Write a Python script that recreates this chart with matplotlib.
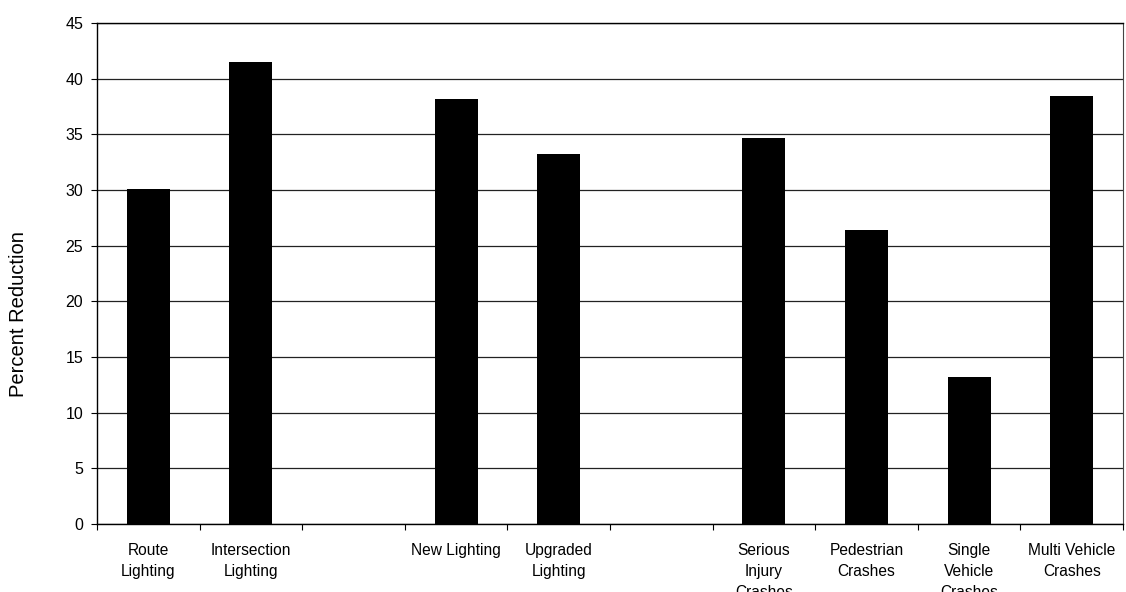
import numpy as np
import matplotlib.pyplot as plt

plt.rcParams['font.family'] = ['Liberation Sans', 'DejaVu Sans']

# empty slots keep the gaps between the three groups
labels = ['Route\nLighting', 'Intersection\nLighting', '',
          'New Lighting', 'Upgraded\nLighting', '',
          'Serious\nInjury\nCrashes', 'Pedestrian\nCrashes',
          'Single\nVehicle\nCrashes', 'Multi Vehicle\nCrashes']
reduction = [30.1, 41.5, np.nan, 38.2, 33.2, np.nan, 34.7, 26.4, 13.2, 38.4]

x = np.arange(len(labels))
vals = np.array(reduction)
keep = ~np.isnan(vals)

fig = plt.figure(figsize=(11.26, 5.92), dpi=100)
ax = fig.add_axes([97 / 1126, 1 - 524 / 592, (1123 - 97) / 1126, (524 - 23) / 592])

ax.bar(x[keep], vals[keep], width=0.42, color='black', zorder=3)

ax.set_xlim(-0.5, len(labels) - 0.5)
ax.set_ylim(0, 45)
ax.set_yticks(np.arange(0, 46, 5))
ax.yaxis.grid(True, color='#222222', linewidth=0.9, zorder=0)

# boundary ticks below the axis, labels sit under the bars
ax.set_xticks(np.arange(len(labels) + 1) - 0.5)
ax.set_xticklabels([])
ax.set_xticks(x, labels, minor=True)
ax.tick_params(axis='x', which='major', direction='out', length=4, width=0.8)
ax.tick_params(axis='x', which='minor', length=0, pad=14, labelsize=11.2)
for t in ax.get_xticklabels(minor=True):
    t.set_linespacing(1.5)
ax.tick_params(axis='y', direction='out', length=4, width=0.8, labelsize=11.5, pad=6)

for side in ['left', 'bottom', 'top']:
    ax.spines[side].set_linewidth(1.0)
ax.spines['right'].set_linewidth(0.8)
ax.spines['right'].set_color('#444444')
ax.spines['right'].set_linestyle((0, (2, 1)))

ax.set_ylabel('Percent Reduction', fontsize=14.5)
ax.yaxis.set_label_coords(-0.067, 0.419)

fig.savefig('out.png', dpi=100)
